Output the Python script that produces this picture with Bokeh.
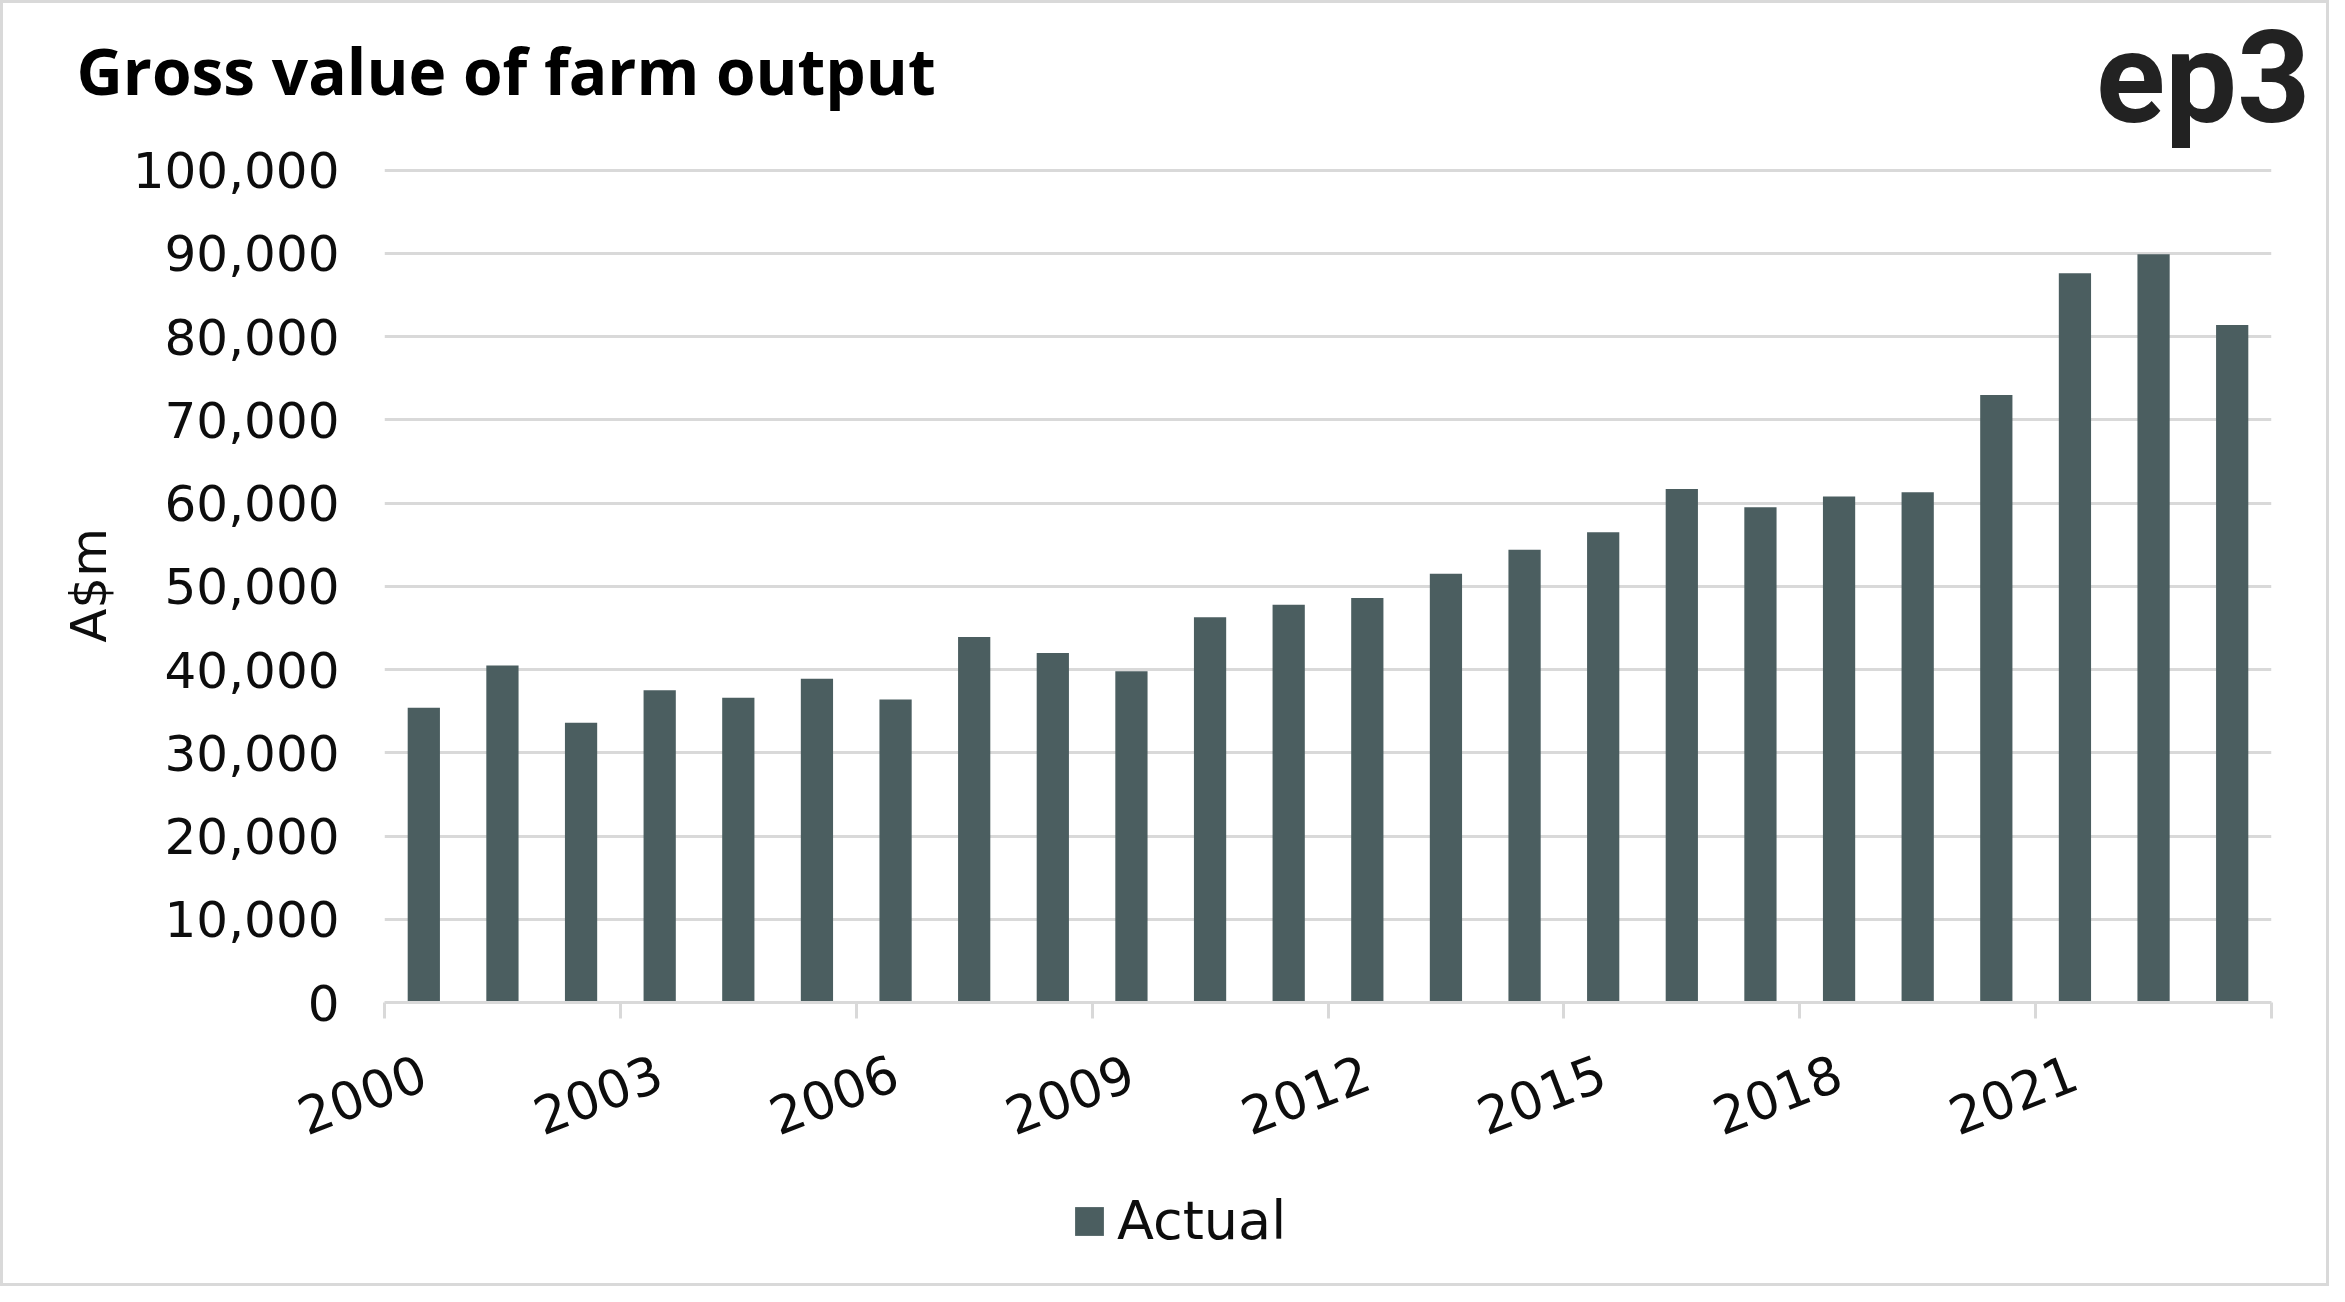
from bokeh.plotting import figure
from bokeh.layouts import column
from bokeh.models import Range1d, FixedTicker, NumeralTickFormatter, Label, Legend, LegendItem
from bokeh.embed import file_html
from bokeh.resources import INLINE
import math

# ---- data ----
years = [2000, 2001, 2002, 2003, 2004, 2005, 2006, 2007, 2008, 2009, 2010, 2011,
         2012, 2013, 2014, 2015, 2016, 2017, 2018, 2019, 2020, 2021, 2022, 2023]
actual = [35400, 40500, 33600, 37500, 36600, 38900, 36400, 43900, 42000, 39800, 46300, 47800,
          48600, 51500, 54400, 56500, 61700, 59500, 60800, 61300, 73000, 87600, 89900, 81400]
x_tick_years = [2000, 2003, 2006, 2009, 2012, 2015, 2018, 2021]
y_ticks = [0, 10000, 20000, 30000, 40000, 50000, 60000, 70000, 80000, 90000, 100000]
title_text = "Gross value of farm output"
logo_text = "ep3"
y_title = "A$m"
series_name = "Actual"

BAR = "#4b5e60"
GRID = "#d9d9d9"
TXT = "#0d0d0d"
FONT = "DejaVu Sans"

W = 2323
HEAD_H = 149
OVERLAP = 28
CHART_H = 1048
FOOT_H = 111


def blank(height):
    f = figure(width=W, height=height, x_range=Range1d(0, 1), y_range=Range1d(0, 1),
               output_backend="svg", toolbar_location=None,
               x_axis_location=None, y_axis_location=None,
               min_border=0, min_border_left=0, min_border_right=0,
               min_border_top=0, min_border_bottom=0, frame_align=False)
    f.grid.visible = False
    f.outline_line_color = None
    f.background_fill_color = "white"
    f.border_fill_color = "white"
    return f


# ---- header: title + logo ----
head = blank(HEAD_H)
head.add_layout(Label(x=73, y=82, x_units="screen", y_units="screen", text=title_text,
                      text_font="Open Sans", text_font_style="bold", text_font_size="64px",
                      text_color="#000000", text_baseline="alphabetic", text_align="left"))
head.add_layout(Label(x=2307, y=75, x_units="screen", y_units="screen", text=logo_text,
                      text_font="Roboto", text_font_style="bold", text_font_size="128px",
                      text_color="#222222", text_baseline="alphabetic", text_align="right"))

# ---- chart (its transparent top border overlaps the header a little) ----
p = figure(width=W, height=CHART_H,
           x_range=Range1d(years[0] - 0.5, years[-1] + 0.5),
           y_range=Range1d(y_ticks[0], y_ticks[-1] + 200),
           output_backend="svg", toolbar_location=None,
           min_border_left=381, min_border_right=55,
           min_border_top=44, min_border_bottom=170, frame_align=False,
           styles={"margin-top": f"-{OVERLAP}px"})
p.outline_line_color = None
p.background_fill_color = "white"
p.border_fill_color = None

r = p.vbar(x=years, top=actual, width=0.41, fill_color=BAR, line_color=None)

p.xgrid.grid_line_color = None
p.ygrid.grid_line_color = GRID
p.ygrid.grid_line_width = 3
p.ygrid.ticker = FixedTicker(ticks=y_ticks)

p.yaxis.ticker = FixedTicker(ticks=y_ticks)
p.yaxis.formatter = NumeralTickFormatter(format="0,0")
p.yaxis.axis_line_color = None
p.yaxis.major_tick_line_color = None
p.yaxis.minor_tick_line_color = None
p.yaxis.major_tick_out = 0
p.yaxis.major_tick_in = 0
p.yaxis.major_label_standoff = 45
p.yaxis.major_label_text_font = FONT
p.yaxis.major_label_text_font_size = "50px"
p.yaxis.major_label_text_color = TXT
p.yaxis.axis_label = y_title
p.yaxis.axis_label_text_font = FONT
p.yaxis.axis_label_text_font_size = "50px"
p.yaxis.axis_label_text_font_style = "normal"
p.yaxis.axis_label_text_color = TXT
p.yaxis.axis_label_standoff = 12

boundaries = [y - 0.5 for y in x_tick_years] + [years[-1] + 0.5]
p.xaxis.ticker = FixedTicker(ticks=x_tick_years, minor_ticks=boundaries)
p.xaxis.axis_line_color = GRID
p.xaxis.axis_line_width = 3
p.xaxis.major_tick_line_color = None
p.xaxis.major_tick_out = 0
p.xaxis.major_tick_in = 0
p.xaxis.minor_tick_line_color = GRID
p.xaxis.minor_tick_line_width = 3
p.xaxis.minor_tick_out = 16
p.xaxis.minor_tick_in = 0
p.xaxis.major_label_orientation = math.radians(21)
p.xaxis.major_label_standoff = 52
p.xaxis.major_label_text_font = FONT
p.xaxis.major_label_text_font_size = "52px"
p.xaxis.major_label_text_color = TXT

# ---- footer: legend (swatch proxy sits outside the footer's visible range) ----
foot = blank(FOOT_H)
swatch = foot.vbar(x=years[:1], top=actual[:1], width=0.41, fill_color=BAR, line_color=None)
legend = Legend(items=[LegendItem(label=series_name, renderers=[swatch])], location=(1068, 31))
legend.border_line_color = None
legend.background_fill_alpha = 0
legend.padding = 0
legend.margin = 0
legend.spacing = 0
legend.glyph_width = 36
legend.glyph_height = 36
legend.label_height = 36
legend.label_standoff = 10
legend.label_text_font = FONT
legend.label_text_font_size = "54px"
legend.label_text_color = TXT
foot.add_layout(legend)

page = column(head, p, foot, spacing=0,
              styles={"border": "3px solid #d9d9d9", "box-sizing": "content-box"})

open("out.html", "w").write(file_html(page, INLINE))
